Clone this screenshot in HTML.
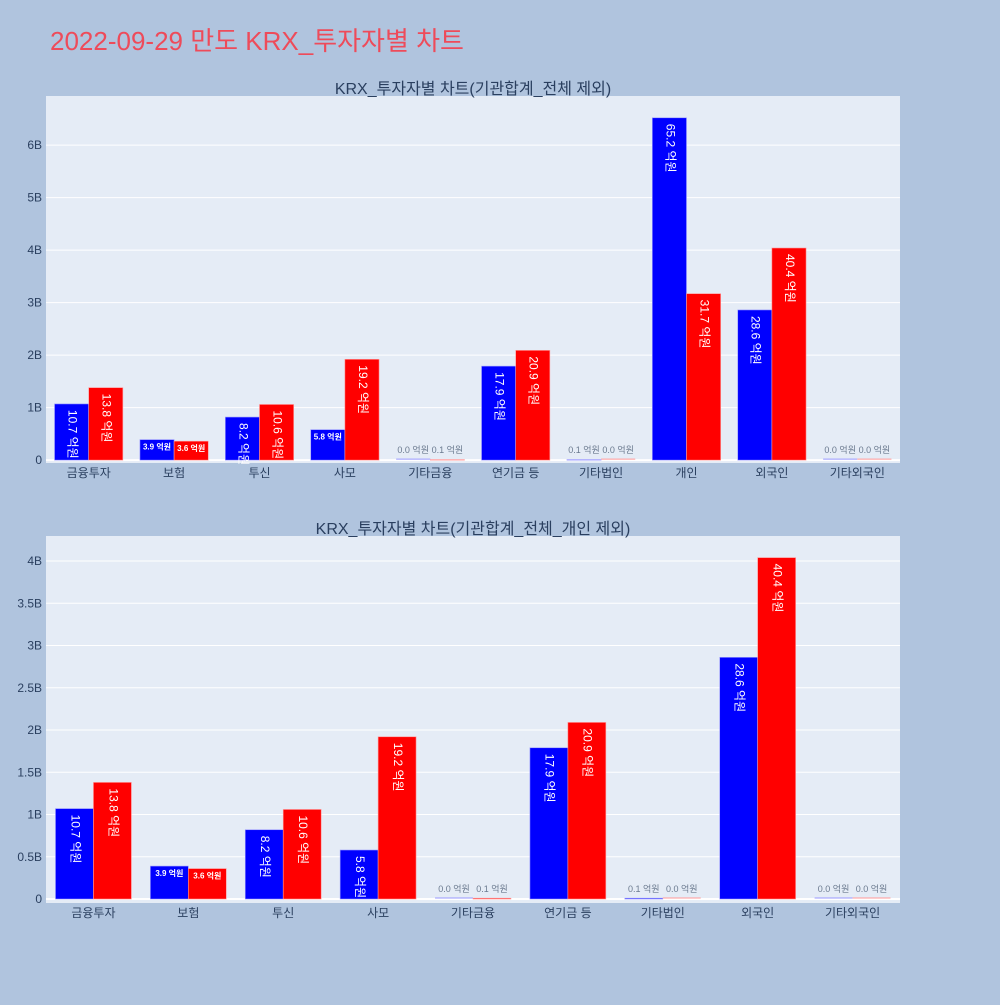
<!DOCTYPE html>
<html><head><meta charset="utf-8">
<style>
body{margin:0;background:#b0c4de;font-family:"Liberation Sans","Noto Sans CJK KR",sans-serif;}
svg text{font-family:"Liberation Sans","Noto Sans CJK KR",sans-serif;}
</style></head>
<body>
<svg id="c" width="1000" height="1000" xmlns="http://www.w3.org/2000/svg">
<rect width="1000" height="1000" fill="#b0c4de"/>
<text x="50" y="50" font-size="26" fill="#ee4b5a">2022-09-29 만도 KRX_투자자별 차트</text>
</svg>
<script>
// Chart 1 data (values in won)
const cats1 = ["금융투자","보험","투신","사모","기타금융","연기금 등","기타법인","개인","외국인","기타외국인"];
const blue1 = [1.07e9,0.39e9,0.82e9,0.58e9,0,1.79e9,0.01e9,6.52e9,2.86e9,0];
const red1  = [1.38e9,0.36e9,1.06e9,1.92e9,0.01e9,2.09e9,0,3.17e9,4.04e9,0];
const blueLbl1 = ["10.7","3.9","8.2","5.8","0.0","17.9","0.1","65.2","28.6","0.0"];
const redLbl1  = ["13.8","3.6","10.6","19.2","0.1","20.9","0.0","31.7","40.4","0.0"];
const ticks1 = [0,1e9,2e9,3e9,4e9,5e9,6e9];
const tickLbl1 = ["0","1B","2B","3B","4B","5B","6B"];
// Chart 2 data
const cats2 = ["금융투자","보험","투신","사모","기타금융","연기금 등","기타법인","외국인","기타외국인"];
const blue2 = [1.07e9,0.39e9,0.82e9,0.58e9,0,1.79e9,0.01e9,2.86e9,0];
const red2  = [1.38e9,0.36e9,1.06e9,1.92e9,0.01e9,2.09e9,0,4.04e9,0];
const blueLbl2 = ["10.7","3.9","8.2","5.8","0.0","17.9","0.1","28.6","0.0"];
const redLbl2  = ["13.8","3.6","10.6","19.2","0.1","20.9","0.0","40.4","0.0"];
const ticks2 = [0,0.5e9,1e9,1.5e9,2e9,2.5e9,3e9,3.5e9,4e9];
const tickLbl2 = ["0","0.5B","1B","1.5B","2B","2.5B","3B","3.5B","4B"];

const NS="http://www.w3.org/2000/svg";
const svg=document.getElementById('c');
function mk(tag,attrs,parent){const e=document.createElementNS(NS,tag);for(const k in attrs)e.setAttribute(k,attrs[k]);(parent||svg).appendChild(e);return e;}

function chart(o){
  const {x0,x1,y0,y1,ymin,ymax,cats,blue,red,bl,rl,ticks,tl,title,id}=o;
  const g=mk('g',{});
  
  
  const bg=mk('rect',{x:x0,y:y0,width:x1-x0,height:y1-y0,fill:'#e5ecf6'},g);
  
  
  const ys=v=>y1-(v-ymin)/(ymax-ymin)*(y1-y0);
  const bw=(x1-x0)/cats.length;
  const xc=i=>x0+bw*(i+0.5);
  ticks.forEach((t,i)=>{
    const y=ys(t);
    const ln=mk('line',{x1:x0,x2:x1,y1:y,y2:y,stroke:'#fff','stroke-width':t===0?2:1},g);
    
    
    const tx=mk('text',{x:x0-4,y:y+4,'text-anchor':'end','font-size':12,fill:'#2a3f5f'},g);
    
    
    tx.textContent=tl[i];
  });
  const barW=bw*0.8/2;
  cats.forEach((c,i)=>{
    const lx=mk('text',{x:xc(i),y:y1+14,'text-anchor':'middle','font-size':12,fill:'#2a3f5f'},g);
    
    
    lx.textContent=c;
    [[blue,bl,'#0000ff','#9999ff',0],[red,rl,'#ff0000','#ff9999',1]].forEach(([arr,lab,col,edge,k])=>{
      const v=arr[i];const bx=xc(i)-bw*0.4+k*barW;
      const yt=ys(v),yb=ys(0),h=yb-yt;
      if(h>0.5){
        const r=mk('rect',{x:bx,y:yt,width:barW,height:h,fill:col,stroke:edge,'stroke-width':0.6},g);
        
        
      } else {
        const r=mk('line',{x1:bx,x2:bx+barW,y1:yb-1,y2:yb-1,stroke:edge,'stroke-width':1},g);
        
        
      }
      const txt=lab[i]+' 억원';
      let t;
      if(h>40){
        const cx=bx+barW/2,cy=yt+6;
        t=mk('text',{x:cx,y:cy,transform:`rotate(90 ${cx} ${cy})`,'font-size':12,fill:'#fff','dominant-baseline':'middle'},g);
      } else if(h>14){
        t=mk('text',{x:bx+barW/2,y:yt+10,'text-anchor':'middle','font-size':8,'font-weight':'bold',fill:'#fff'},g);
      } else {
        t=mk('text',{x:bx+barW/2,y:yb-7,'text-anchor':'middle','font-size':9,fill:'#6b7a8f'},g);
      }
      
      
      t.textContent=txt;
    });
  });
  const tt=mk('text',{x:(x0+x1)/2,y:y0-2,'text-anchor':'middle','font-size':16,fill:'#2a3f5f'},g);
  
  
  tt.textContent=title;
}
chart({x0:46,x1:900,y0:96,y1:463,ymin:-0.055e9,ymax:6.935e9,cats:cats1,blue:blue1,red:red1,bl:blueLbl1,rl:redLbl1,ticks:ticks1,tl:tickLbl1,title:'KRX_투자자별 차트(기관합계_전체 제외)',id:'chart-top'});
chart({x0:46,x1:900,y0:536,y1:903,ymin:-0.047e9,ymax:4.296e9,cats:cats2,blue:blue2,red:red2,bl:blueLbl2,rl:redLbl2,ticks:ticks2,tl:tickLbl2,title:'KRX_투자자별 차트(기관합계_전체_개인 제외)',id:'chart-bottom'});
</script>
</body></html>
